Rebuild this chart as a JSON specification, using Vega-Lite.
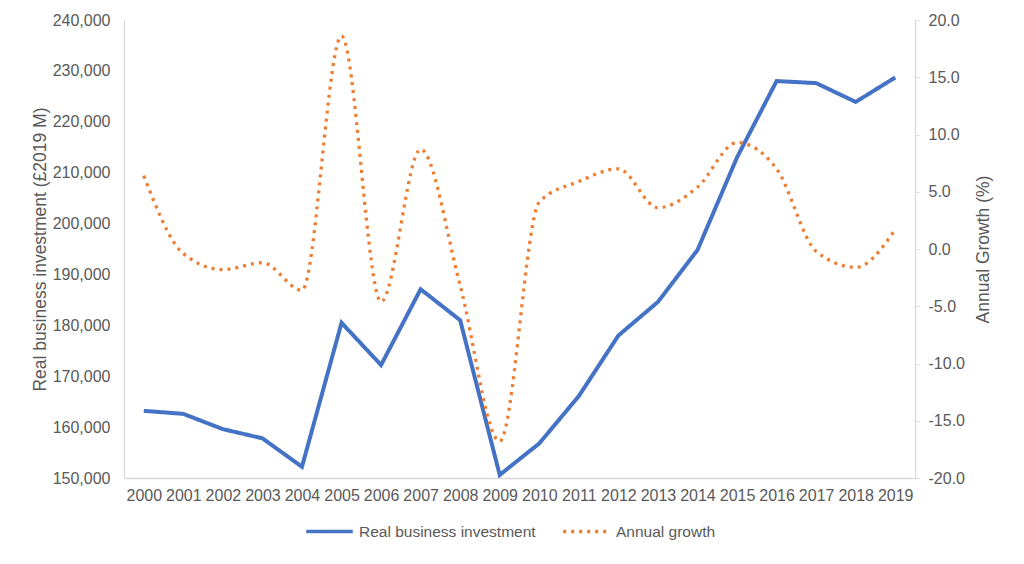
{
  "$schema": "https://vega.github.io/schema/vega-lite/v6.json",
  "width": 791,
  "height": 458,
  "autosize": {"type": "none"},
  "padding": {"left": 124, "top": 20, "right": 109, "bottom": 86},
  "background": "white",
  "config": {
    "view": {"stroke": null},
    "font": "Liberation Sans",
    "axis": {
      "grid": false,
      "labelFont": "Liberation Sans",
      "labelFontSize": 16,
      "labelColor": "#595959",
      "titleFont": "Liberation Sans",
      "titleFontSize": 17.5,
      "titleFontWeight": "normal",
      "titleColor": "#595959",
      "domainColor": "#d9d9d9",
      "domainWidth": 1.3,
      "tickColor": "#d9d9d9"
    },
    "legend": {
      "labelFont": "Liberation Sans",
      "labelFontSize": 15.5,
      "labelColor": "#595959",
      "labelLimit": 400
    }
  },
  "data": {
    "values": [
      {"year": "2000", "investment": 163200, "growth": 6.4},
      {"year": "2001", "investment": 162600, "growth": -0.4},
      {"year": "2002", "investment": 159600, "growth": -1.8},
      {"year": "2003", "investment": 157800, "growth": -1.2},
      {"year": "2004", "investment": 152200, "growth": -3.6},
      {"year": "2005", "investment": 180500, "growth": 18.6},
      {"year": "2006", "investment": 172200, "growth": -4.6},
      {"year": "2007", "investment": 187100, "growth": 8.7},
      {"year": "2008", "investment": 181000, "growth": -3.2},
      {"year": "2009", "investment": 150600, "growth": -16.8},
      {"year": "2010", "investment": 156800, "growth": 4.1},
      {"year": "2011", "investment": 166100, "growth": 5.9},
      {"year": "2012", "investment": 178000, "growth": 7.0},
      {"year": "2013", "investment": 184600, "growth": 3.6},
      {"year": "2014", "investment": 194800, "growth": 5.4},
      {"year": "2015", "investment": 213000, "growth": 9.3},
      {"year": "2016", "investment": 228000, "growth": 7.0},
      {"year": "2017", "investment": 227600, "growth": -0.2},
      {"year": "2018", "investment": 223900, "growth": -1.6},
      {"year": "2019", "investment": 228700, "growth": 1.7}
    ]
  },
  "encoding": {
    "x": {
      "field": "year",
      "type": "ordinal",
      "scale": {"type": "point", "padding": 0.5},
      "axis": {"title": null, "labelAngle": 0, "ticks": false, "labelPadding": 9}
    }
  },
  "layer": [
    {
      "mark": {"type": "line", "strokeWidth": 4},
      "encoding": {
        "y": {
          "field": "investment",
          "type": "quantitative",
          "scale": {"domain": [150000, 240000], "nice": false, "zero": false},
          "axis": {
            "title": "Real business investment (£2019 M)",
            "values": [150000, 160000, 170000, 180000, 190000, 200000, 210000, 220000, 230000, 240000],
            "labelExpr": "format(datum.value, ',')",
            "ticks": false,
            "labelPadding": 14,
            "titlePadding": 3
          }
        },
        "color": {
          "datum": "Real business investment",
          "scale": {"domain": ["Real business investment", "Annual growth"], "range": ["#4472C4", "#ED7D31"]},
          "legend": {
            "title": null,
            "orient": "none",
            "direction": "horizontal",
            "legendX": 180,
            "legendY": 486,
            "symbolType": "stroke",
            "symbolSize": 2170,
            "symbolStrokeWidth": 3.5,
            "labelOffset": 4,
            "columnPadding": 20
          }
        },
        "strokeDash": {
          "datum": "Real business investment",
          "scale": {"domain": ["Real business investment", "Annual growth"], "range": [[1, 0], [3, 5]]},
          "legend": {
            "title": null,
            "orient": "none",
            "direction": "horizontal",
            "legendX": 180,
            "legendY": 486,
            "symbolType": "stroke",
            "symbolSize": 2170,
            "symbolStrokeWidth": 3.5,
            "labelOffset": 4,
            "columnPadding": 20
          }
        }
      }
    },
    {
      "mark": {"type": "line", "strokeWidth": 3.3, "interpolate": "monotone"},
      "encoding": {
        "y": {
          "field": "growth",
          "type": "quantitative",
          "scale": {"domain": [-20, 20], "nice": false, "zero": false},
          "axis": {
            "orient": "right",
            "title": "Annual Growth (%)",
            "titleAngle": 270,
            "values": [-20, -15, -10, -5, 0, 5, 10, 15, 20],
            "labelExpr": "replace(format(datum.value, '.1f'), '\u2212', '-')",
            "ticks": true,
            "tickSize": 4,
            "labelPadding": 9,
            "titlePadding": 28
          }
        },
        "color": {"datum": "Annual growth"},
        "strokeDash": {"datum": "Annual growth"}
      }
    }
  ],
  "resolve": {"scale": {"y": "independent"}}
}
